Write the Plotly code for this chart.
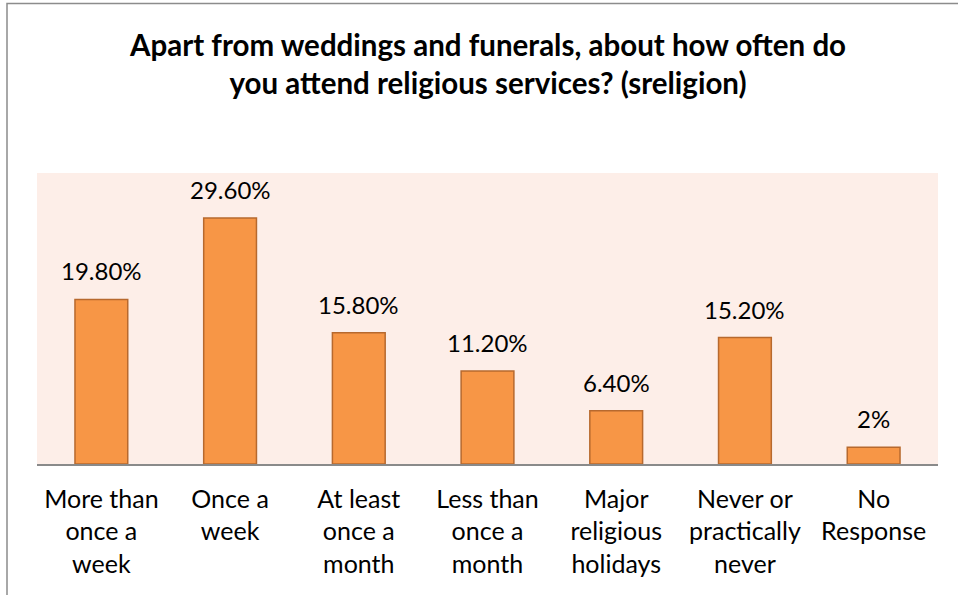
import plotly.graph_objects as go

categories = ["More than<br>once a<br>week", "Once a<br>week", "At least<br>once a<br>month",
              "Less than<br>once a<br>month", "Major<br>religious<br>holidays",
              "Never or<br>practically<br>never", "No<br>Response"]
values = [19.8, 29.6, 15.8, 11.2, 6.4, 15.2, 2.0]
labels = ["19.80%", "29.60%", "15.80%", "11.20%", "6.40%", "15.20%", "2%"]

FONT = "Lato, 'Open Sans', sans-serif"

fig = go.Figure(go.Bar(
    x=categories, y=values,
    marker=dict(color="#F79646", line=dict(color="#B7692E", width=1.5)),
    width=0.41,
))

annots = [dict(x=c, y=v, text=t, xref="x", yref="y", showarrow=False,
               yanchor="bottom", yshift=12,
               font=dict(family=FONT, size=24, color="#000000"))
          for c, v, t in zip(categories, values, labels)]
annots.append(dict(
    text="<b>Apart from weddings and funerals, about how often do<br>you attend religious services? (sreligion)</b>",
    xref="paper", yref="paper", x=0.5, y=(464 - 25) / 291, xanchor="center", yanchor="top",
    showarrow=False, font=dict(family=FONT, size=29.5, color="#000000")))

fig.update_layout(
    width=958, height=595,
    margin=dict(l=37, r=20, t=173, b=131),
    paper_bgcolor="#FFFFFF", plot_bgcolor="#FDEEE8",
    showlegend=False,
    xaxis=dict(showline=True, linecolor="#8A8A8A", linewidth=1.5, ticks="",
               ticklabelstandoff=12,
               tickfont=dict(family=FONT, size=25, color="#000000"), showgrid=False),
    yaxis=dict(range=[0, 35], visible=False, showgrid=False),
    annotations=annots,
    shapes=[dict(type="rect", xref="paper", yref="paper",
                 x0=(7 - 37) / 901, x1=(962 - 37) / 901,
                 y0=(464 - 600) / 291, y1=(464 - 3.5) / 291,
                 line=dict(color="#8C8C8C", width=1.5), layer="above")],
)
fig.write_html("out.html", config={"displayModeBar": False},
               post_script="document.body.style.margin='0';")
